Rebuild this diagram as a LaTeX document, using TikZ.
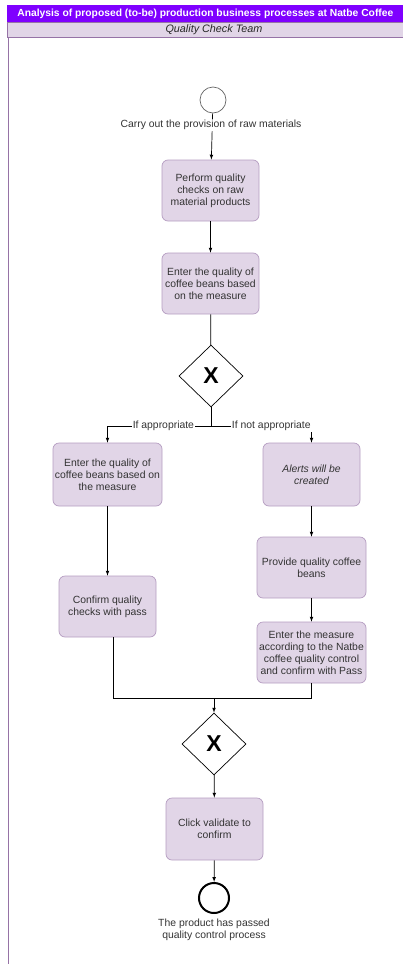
\documentclass[tikz,border=0pt]{standalone}
\usepackage{xcolor}
\usepackage{tikz}
\usepackage{fontspec}
\setmainfont{Liberation Sans}
\usetikzlibrary{shapes.geometric, arrows, positioning, calc}

\definecolor{headviolet}{HTML}{7F00FF}
\definecolor{lanefill}{HTML}{E1D5E7}
\definecolor{laneline}{HTML}{9673A6}
\definecolor{txtgray}{HTML}{333333}

\begin{document}
\begin{tikzpicture}[x=1pt, y=-1pt, line width=0.7pt, >=latex]
    \tikzstyle{task} = [rectangle, rounded corners=6pt, draw=laneline!70, fill=lanefill, text=txtgray,
        align=center, font=\fontsize{10.4}{12}\selectfont, minimum width=97pt, minimum height=61pt, inner sep=1pt]
    \tikzstyle{gate} = [diamond, draw, fill=white, minimum width=64pt, minimum height=62pt, inner sep=0pt,
        font=\fontsize{23}{23}\selectfont\bfseries]
    \tikzstyle{lbl} = [text=txtgray, align=center, font=\fontsize{10.4}{12}\selectfont, inner sep=1pt]

    \useasboundingbox (0,0) rectangle (403,964);

    % lane header
    \fill[headviolet] (7,5) rectangle (410,22);
    \node[anchor=west, text=white, font=\fontsize{10.3}{12}\selectfont\bfseries, inner sep=0pt] (title) at (17,13.5)
        {Analysis of proposed (to-be) production business processes at Natbe Coffee};
    \draw[laneline, fill=lanefill] (7,22) rectangle (410,37);
    \node[font=\fontsize{10.8}{12}\selectfont\itshape, text=black!85, inner sep=0pt] (team) at (214,29.5) {Quality Check Team};
    \draw[laneline, line width=1pt] (8,37) -- (8,964);

    % events and gateways
    \node[circle, draw=black!60, minimum size=26pt, inner sep=0pt] (start) at (213,100) {};
    \node[gate] (g1) at (211,376) {X};
    \node[gate] (g2) at (214,744) {X};
    \node[circle, draw, line width=2pt, minimum size=30pt, inner sep=0pt] (stop) at (214,898) {};

    % tasks
    \node[task] (p1) at (210.5,190.5) {Perform quality\\checks on raw\\material products};
    \node[task] (p2) at (210.5,283.5) {Enter the quality of\\coffee beans based\\on the measure};
    \node[task, minimum width=109pt, minimum height=63pt] (a1) at (107.5,474.5) {Enter the quality of\\coffee beans based on\\the measure};
    \node[task, minimum height=63pt] (b1) at (311.5,474.5) {\itshape Alerts will be\\\itshape created};
    \node[task] (c1) at (107.5,606.5) {Confirm quality\\checks with pass};
    \node[task, minimum width=109pt] (d1) at (311.5,567.5) {Provide quality coffee\\beans};
    \node[task, minimum width=109pt] (e1) at (311.5,652.5) {Enter the measure\\according to the Natbe\\coffee quality control\\and confirm with Pass};
    \node[task, minimum height=62pt] (f1) at (214.5,829) {Click validate to\\confirm};

    \coordinate (split) at (211,426);
    \coordinate (merge) at (214,698);

    % flows
    \draw[->] (start) -- (p1);
    \node[lbl, fill=white] (startlbl) at (211,125) {Carry out the provision of raw materials};
    \draw[->] (p1) -- (p2);
    \draw (p2) -- (g1);
    \draw (g1) -- (split);
    \draw[->] (split) -| node[lbl, fill=white, pos=0.23] {If appropriate} (a1);
    \draw[->] (split) -| node[lbl, fill=white, pos=0.3] {If not appropriate} (b1);
    \draw[->] (a1) -- (c1);
    \draw[->] (b1) -- (d1);
    \draw[->] (d1) -- (e1);
    \draw (c1.south -| 113,0) |- (merge);
    \draw (e1) |- (merge);
    \draw[->] (merge) -- (g2);
    \draw[->] (g2) -- (f1);
    \draw[->] (f1) -- (stop);
    \node[lbl, below=4pt of stop] (stoplbl) {The product has passed\\quality control process};
\end{tikzpicture}
\end{document}
